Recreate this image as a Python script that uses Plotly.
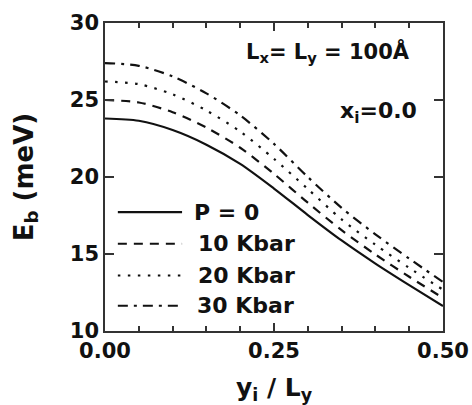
import plotly.graph_objects as go

# data
y_over_L = [0.00, 0.05, 0.10, 0.15, 0.20, 0.25, 0.30, 0.35, 0.40, 0.45, 0.50]
Eb_P0 = [23.80, 23.65, 23.05, 22.10, 20.85, 19.25, 17.53, 15.88, 14.38, 12.98, 11.62]
Eb_P10 = [25.00, 24.84, 24.21, 23.21, 21.90, 20.20, 18.33, 16.55, 14.97, 13.52, 12.15]
Eb_P20 = [26.20, 26.03, 25.37, 24.32, 22.95, 21.18, 19.22, 17.25, 15.60, 14.10, 12.68]
Eb_P30 = [27.40, 27.22, 26.53, 25.43, 24.00, 22.15, 20.00, 18.00, 16.28, 14.70, 13.18]

series_names = ["P = 0", "10 Kbar", "20 Kbar", "30 Kbar"]
series_values = [Eb_P0, Eb_P10, Eb_P20, Eb_P30]
dashes = ["solid", "9px,7px", "2.5px,7.5px", "10px,6px,3px,6px"]

x_ticks = [0.0, 0.25, 0.5]
x_tick_labels = ["0.00", "0.25", "0.50"]
y_ticks = [10, 15, 20, 25, 30]

INK = "#111111"
AX = "#333333"
FONT = "DejaVu Sans"

fig = go.Figure()
for name, vals, d in zip(series_names, series_values, dashes):
    fig.add_trace(go.Scatter(x=y_over_L, y=vals, mode="lines", name=name,
                             line=dict(color=INK, width=2.2, dash=d, shape="spline", smoothing=0.8),
                             showlegend=False))

# manual legend (paper coordinates)
leg_y = [0.386, 0.283, 0.180, 0.082]
leg_tx = [0.257, 0.269, 0.269, 0.266]
for name, d, yy, tx in zip(series_names, dashes, leg_y, leg_tx):
    fig.add_shape(type="line", xref="paper", yref="paper", x0=0.038, x1=0.228,
                  y0=yy, y1=yy, line=dict(color=INK, width=2.2 if d == "solid" else 2.0, dash=d))
    fig.add_annotation(xref="paper", yref="paper", x=tx, y=yy, text="<b>%s</b>" % name,
                       showarrow=False, xanchor="left", yanchor="middle",
                       font=dict(family=FONT, size=22, color=INK))

fig.add_annotation(xref="paper", yref="paper", x=0.907, y=0.905,
                   text="<b>L<sub>x</sub>= L<sub>y</sub> = 100Å</b>", showarrow=False,
                   xanchor="right", yanchor="middle", font=dict(family=FONT, size=21, color=INK))
fig.add_annotation(xref="paper", yref="paper", x=0.930, y=0.71,
                   text="<b>x<sub>i</sub>=0.0</b>", showarrow=False,
                   xanchor="right", yanchor="middle", font=dict(family=FONT, size=22, color=INK))

fig.update_layout(
    width=472, height=405,
    margin=dict(l=105, r=29, t=23, b=74),
    paper_bgcolor="white", plot_bgcolor="white",
    font=dict(family=FONT, color=INK),
)
fig.update_xaxes(range=[0, 0.5], tickvals=x_ticks, ticktext=x_tick_labels, automargin=False,
                 ticks="inside", ticklen=8, tickwidth=1.5, tickcolor=AX,
                 minor=dict(dtick=0.05, ticks="inside", ticklen=5, tickwidth=1.5, tickcolor=AX),
                 showline=True, linecolor=AX, linewidth=1.6, mirror="ticks",
                 showgrid=False, zeroline=False,
                 tickfont=dict(family=FONT, size=21, color=INK, weight="bold"),
                 title=dict(text="<b>y<sub>i</sub> / L<sub>y</sub></b>", standoff=16,
                            font=dict(family=FONT, size=25, color=INK)))
fig.update_yaxes(range=[10, 30], tickvals=y_ticks, automargin=False,
                 ticks="inside", ticklen=9, tickwidth=1.5, tickcolor=AX,
                 showline=True, linecolor=AX, linewidth=1.6, mirror="ticks",
                 showgrid=False, zeroline=False,
                 tickfont=dict(family=FONT, size=21, color=INK, weight="bold"),
                 title=dict(text="<b>E<sub>b</sub> (meV)</b>", standoff=29,
                            font=dict(family=FONT, size=26, color=INK)))

fig.write_html("out.html")
